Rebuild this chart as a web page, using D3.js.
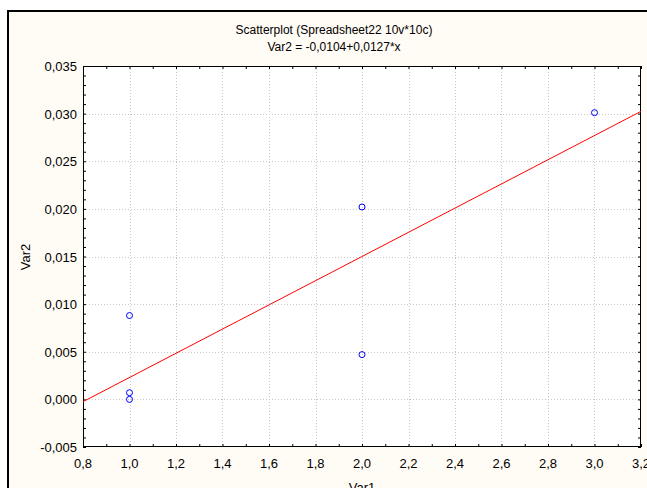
<!DOCTYPE html>
<html>
<head>
<meta charset="utf-8">
<script src="https://cdn.jsdelivr.net/npm/d3@7"></script>
<style>
body{margin:0;background:#fff;}
svg{display:block;}
text{font-family:"Liberation Sans",Arial,sans-serif;fill:#000;}
</style>
</head>
<body>
<div id="contents"></div>
<script>
var var1 = [1.0, 1.0, 1.0, 2.0, 2.0, 3.0];
var var2 = [0.0088, 0.0007, 0.0000, 0.0202, 0.0047, 0.0301];
var intercept = -0.0104, slope = 0.0127;
var xTicks = [0.8, 1.0, 1.2, 1.4, 1.6, 1.8, 2.0, 2.2, 2.4, 2.6, 2.8, 3.0, 3.2];
var yTicks = [-0.005, 0, 0.005, 0.010, 0.015, 0.020, 0.025, 0.030, 0.035];
var titles = ["Scatterplot (Spreadsheet22 10v*10c)", "Var2 = -0,0104+0,0127*x"];

var width = 647, height = 488;
var pLeft = 83, pRight = 641, pTop = 66, pBottom = 447;

var svg = d3.select("#contents").append("svg")
  .attr("width", width).attr("height", height);

svg.append("rect").attr("x", 0).attr("y", 0).attr("width", width).attr("height", height).attr("fill", "#fff");
svg.append("rect").attr("x", 8).attr("y", 11).attr("width", 660).attr("height", 500)
  .attr("fill", "#fffbf5").attr("stroke", "#000").attr("stroke-width", 2);

var x = d3.scaleLinear().domain([0.8, 3.2]).range([pLeft, pRight]);
var y = d3.scaleLinear().domain([-0.005, 0.035]).range([pBottom, pTop]);
var fmt = function(f){ return function(d){ return d3.format(f)(d).replace(".", ",").replace("−", "-"); }; };

svg.append("rect").attr("x", pLeft).attr("y", pTop).attr("width", pRight - pLeft).attr("height", pBottom - pTop).attr("fill", "#fff");

// grid
svg.append("g").selectAll("line").data(xTicks.slice(1, -1)).enter().append("line")
  .attr("x1", function(d){return Math.round(x(d)) + 0.5;}).attr("x2", function(d){return Math.round(x(d)) + 0.5;})
  .attr("y1", pTop).attr("y2", pBottom)
  .attr("stroke", "#c8c8c8").attr("stroke-dasharray", "1,2");
svg.append("g").selectAll("line").data(yTicks.slice(1, -1)).enter().append("line")
  .attr("y1", function(d){return Math.round(y(d)) + 0.5;}).attr("y2", function(d){return Math.round(y(d)) + 0.5;})
  .attr("x1", pLeft).attr("x2", pRight)
  .attr("stroke", "#c8c8c8").attr("stroke-dasharray", "1,2");

// axes with inward ticks
var xMinor = d3.range(0.8, 3.2001, 0.1);
var yMinor = d3.range(-0.005, 0.03501, 0.001);
svg.append("g").attr("transform", "translate(0," + pBottom + ")")
  .call(d3.axisBottom(x).tickValues(xMinor).tickSize(-3).tickFormat(""));
svg.append("g").attr("transform", "translate(0," + pTop + ")")
  .call(d3.axisTop(x).tickValues(xMinor).tickSize(-3).tickFormat(""));
svg.append("g").attr("transform", "translate(" + pLeft + ",0)")
  .call(d3.axisLeft(y).tickValues(yMinor).tickSize(-3).tickFormat(""));
svg.append("g").attr("transform", "translate(" + pRight + ",0)")
  .call(d3.axisRight(y).tickValues(yMinor).tickSize(-3).tickFormat(""));
svg.selectAll(".domain").remove();
svg.selectAll(".tick line").attr("stroke", "#000");

svg.append("rect").attr("x", pLeft + 0.5).attr("y", pTop + 0.5).attr("width", pRight - pLeft - 1).attr("height", pBottom - pTop - 1)
  .attr("fill", "none").attr("stroke", "#000");

// tick labels
svg.append("g").selectAll("text").data(xTicks).enter().append("text")
  .attr("x", function(d){return x(d);}).attr("y", pBottom + 21)
  .attr("text-anchor", "middle").style("font-size", "13px").text(fmt(".1f"));
svg.append("g").selectAll("text").data(yTicks).enter().append("text")
  .attr("x", pLeft - 6).attr("y", function(d){return y(d) + 5;})
  .attr("text-anchor", "end").style("font-size", "13px").text(fmt(".3f"));

// regression line
var line = d3.line().x(function(d){return x(d);}).y(function(d){return y(intercept + slope * d);});
svg.append("path").datum([0.8, 3.2]).attr("d", line)
  .attr("fill", "none").attr("stroke", "#ff0000").attr("stroke-width", 1);

// points
svg.append("g").selectAll("circle").data(var1).enter().append("circle")
  .attr("cx", function(d){return x(d);}).attr("cy", function(d, i){return y(var2[i]);})
  .attr("r", 3).attr("fill", "none").attr("stroke", "#0000ff").attr("stroke-width", 1);

// titles
svg.append("g").selectAll("text").data(titles).enter().append("text")
  .attr("x", 334).attr("y", function(d, i){return 34 + i * 17;})
  .attr("text-anchor", "middle").style("font-size", "12px").text(function(d){return d;});

svg.append("text").attr("x", 362).attr("y", 492).attr("text-anchor", "middle")
  .style("font-size", "13px").text("Var1");
svg.append("text").attr("transform", "translate(30,257) rotate(-90)").attr("text-anchor", "middle")
  .style("font-size", "13px").text("Var2");
</script>
</body>
</html>
